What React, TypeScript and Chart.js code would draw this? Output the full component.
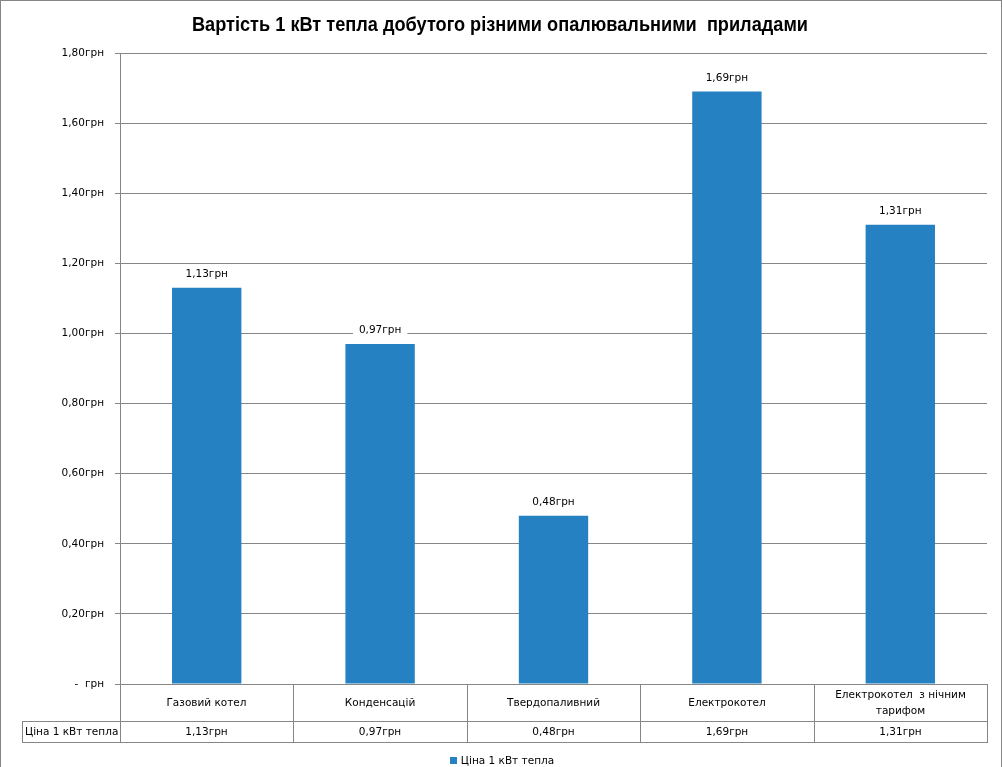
import React, { useEffect, useRef } from "react";
import { Chart, registerables } from "chart.js";

Chart.register(...registerables);

const TITLE = "Вартість 1 кВт тепла добутого різними опалювальними  приладами";
const SERIES_NAME = "Ціна 1 кВт тепла";
const categories = [
  "Газовий котел",
  "Конденсацій",
  "Твердопаливний",
  "Електрокотел",
  "Електрокотел  з нічним тарифом",
];
const values = [1.13, 0.97, 0.48, 1.69, 1.31];
const Y_MIN = 0;
const Y_MAX = 1.8;
const Y_STEP = 0.2;
const CURRENCY = "грн";

const BAR_COLOR = "#2581C2";
const LINE_COLOR = "#868686";
const TEXT_COLOR = "#000000";
const FONT_FAMILY = '"DejaVu Sans", sans-serif';
const FONT_SIZE = 10.5;
const TITLE_FONT = 'bold 19.5px "Liberation Sans Narrow", "Liberation Sans", sans-serif';
const TITLE_WIDTH = 616;

const fmt = (v: number) =>
  Math.abs(v) < 1e-9 ? "-  " + CURRENCY : v.toFixed(2).replace(".", ",") + CURRENCY;

function wrapText(ctx: CanvasRenderingContext2D, text: string, maxW: number): string[] {
  const words = text.split(" ");
  const lines: string[] = [];
  let cur = "";
  for (let i = 0; i < words.length; i++) {
    const test = cur === "" && i === 0 ? words[i] : cur + " " + words[i];
    if (ctx.measureText(test.trim()).width > maxW && cur.trim() !== "") {
      lines.push(cur.trim());
      cur = words[i];
    } else {
      cur = test;
    }
  }
  if (cur.trim() !== "") lines.push(cur.trim());
  return lines;
}

const decorPlugin = {
  id: "decor",
  beforeDraw(chart: any) {
    const ctx = chart.ctx as CanvasRenderingContext2D;
    ctx.save();
    ctx.fillStyle = "#ffffff";
    ctx.fillRect(0, 0, chart.width, chart.height);
    ctx.restore();
  },
  afterDatasetsDraw(chart: any) {
    const ctx = chart.ctx as CanvasRenderingContext2D;
    const meta = chart.getDatasetMeta(0);
    ctx.save();
    ctx.font = `${FONT_SIZE}px ${FONT_FAMILY}`;
    ctx.textAlign = "center";
    ctx.textBaseline = "middle";
    meta.data.forEach((bar: any, i: number) => {
      const txt = fmt(values[i]);
      const w = ctx.measureText(txt).width;
      const cx = bar.x;
      const cy = bar.y - 13.5;
      ctx.fillStyle = "#ffffff";
      ctx.fillRect(cx - w / 2 - 6, cy - 8, w + 12, 16);
      ctx.fillStyle = TEXT_COLOR;
      ctx.fillText(txt, cx, cy);
    });
    ctx.restore();
  },
  afterDraw(chart: any) {
    const ctx = chart.ctx as CanvasRenderingContext2D;
    const area = chart.chartArea;
    const xs = chart.scales.x;
    const left = Math.round(area.left);
    const right = Math.round(area.right);
    const top0 = Math.round(area.bottom);
    const rowSplit = top0 + 37;
    const bottom = rowSplit + 21;
    const labelLeft = 22;

    ctx.save();
    // Title
    ctx.font = TITLE_FONT;
    ctx.fillStyle = TEXT_COLOR;
    ctx.textBaseline = "alphabetic";
    ctx.textAlign = "center";
    const tw = ctx.measureText(TITLE).width;
    const sx = TITLE_WIDTH / tw;
    ctx.save();
    ctx.translate(500, 31);
    ctx.scale(sx, 1);
    ctx.fillText(TITLE, 0, 0);
    ctx.restore();

    // Table lines
    ctx.strokeStyle = LINE_COLOR;
    ctx.lineWidth = 1;
    const hline = (x1: number, x2: number, y: number) => {
      ctx.beginPath();
      ctx.moveTo(x1, y + 0.5);
      ctx.lineTo(x2 + 1, y + 0.5);
      ctx.stroke();
    };
    const vline = (x: number, y1: number, y2: number) => {
      ctx.beginPath();
      ctx.moveTo(x + 0.5, y1);
      ctx.lineTo(x + 0.5, y2 + 1);
      ctx.stroke();
    };
    hline(left, right, top0);
    hline(labelLeft, right, rowSplit);
    hline(labelLeft, right, bottom);
    vline(labelLeft, rowSplit, bottom);
    vline(left, top0, bottom);
    vline(right, top0, bottom);
    const n = categories.length;
    const bounds: number[] = [left];
    for (let i = 0; i < n - 1; i++) {
      const b = Math.round((xs.getPixelForValue(i) + xs.getPixelForValue(i + 1)) / 2);
      bounds.push(b);
      vline(b, top0, bottom);
    }
    bounds.push(right);

    // Table text
    ctx.font = `${FONT_SIZE}px ${FONT_FAMILY}`;
    ctx.fillStyle = TEXT_COLOR;
    ctx.textAlign = "center";
    ctx.textBaseline = "middle";
    const lineH = 16.5;
    for (let i = 0; i < n; i++) {
      const cx = (bounds[i] + bounds[i + 1]) / 2;
      const lines = wrapText(ctx, categories[i], bounds[i + 1] - bounds[i] - 14);
      const cy = (top0 + rowSplit) / 2 + 1;
      lines.forEach((ln, k) => {
        ctx.fillText(ln, cx, cy + (k - (lines.length - 1) / 2) * lineH);
      });
      ctx.fillText(fmt(values[i]), cx, (rowSplit + bottom) / 2 + 1);
    }
    ctx.textAlign = "left";
    ctx.fillText(SERIES_NAME, labelLeft + 3, (rowSplit + bottom) / 2 + 1);

    // Legend
    const legW = ctx.measureText(SERIES_NAME).width;
    const total = 7 + 4 + legW;
    const lx = 502 - total / 2;
    ctx.fillStyle = BAR_COLOR;
    ctx.fillRect(Math.round(lx), 757, 7, 7);
    ctx.fillStyle = TEXT_COLOR;
    ctx.fillText(SERIES_NAME, lx + 11, 761);

    // Outer border
    ctx.strokeStyle = LINE_COLOR;
    ctx.strokeRect(0.5, 0.5, chart.width - 1, chart.height + 20);
    ctx.restore();
  },
};

export default function App() {
  const ref = useRef<HTMLCanvasElement | null>(null);
  useEffect(() => {
    if (!ref.current) return;
    const chart = new Chart(ref.current, {
      type: "bar",
      data: {
        labels: categories,
        datasets: [
          {
            label: SERIES_NAME,
            data: values,
            backgroundColor: BAR_COLOR,
            borderWidth: 0,
            barPercentage: 0.4,
            categoryPercentage: 1.0,
          },
        ],
      },
      options: {
        responsive: false,
        animation: false,
        devicePixelRatio: 1,
        layout: { padding: { top: 53, bottom: 83, right: 15, left: 0 } },
        plugins: {
          legend: { display: false },
          title: { display: false },
          tooltip: { enabled: false },
        },
        scales: {
          x: { display: false },
          y: {
            min: Y_MIN,
            max: Y_MAX,
            ticks: {
              stepSize: Y_STEP,
              callback: (v: any) => fmt(Number(v)),
              font: { family: FONT_FAMILY, size: FONT_SIZE },
              color: TEXT_COLOR,
              padding: 11,
            },
            grid: { color: LINE_COLOR, tickLength: 5, drawTicks: true },
            border: { color: LINE_COLOR },
            afterFit: (s: any) => {
              s.width = 120;
            },
          },
        },
      } as any,
      plugins: [decorPlugin],
    });
    return () => chart.destroy();
  }, []);
  return (
    <div style={{ position: "absolute", left: 0, top: 0, width: 1002, height: 767, overflow: "hidden" }}>
      <canvas ref={ref} width={1002} height={767} style={{ display: "block" }} />
    </div>
  );
}
